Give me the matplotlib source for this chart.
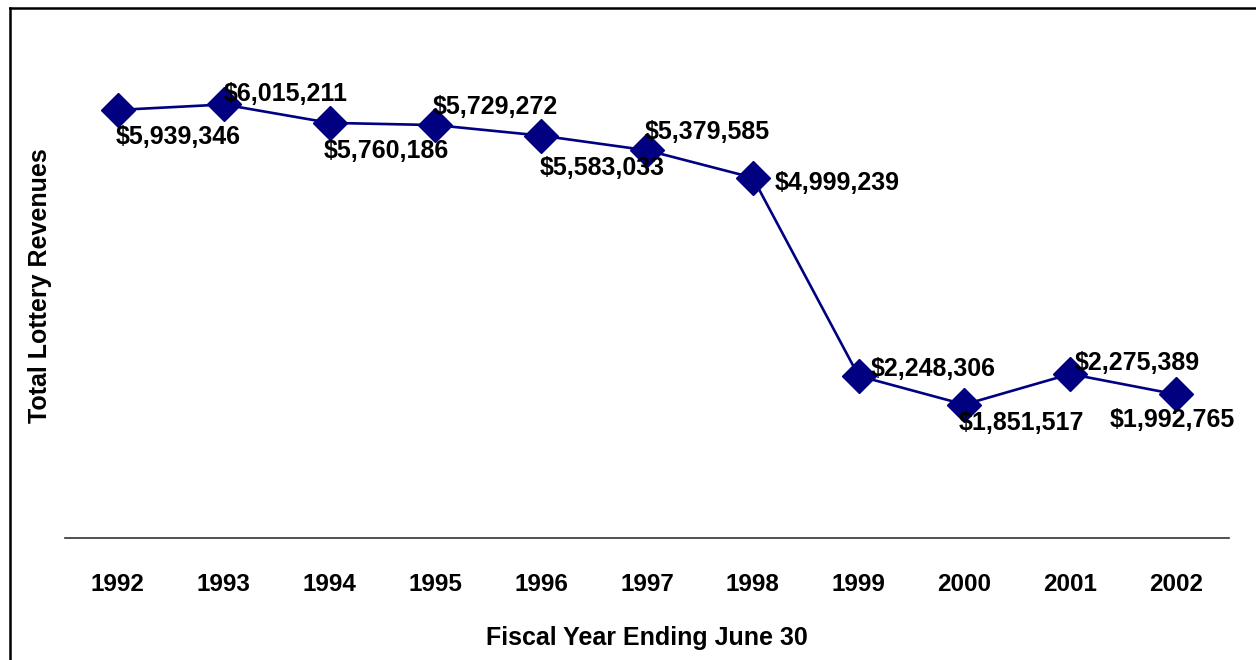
import matplotlib
matplotlib.use("Agg")
import matplotlib.pyplot as plt
from matplotlib.lines import Line2D

plt.rcParams['font.family'] = ['Liberation Sans', 'DejaVu Sans']

years = ["1992", "1993", "1994", "1995", "1996", "1997",
         "1998", "1999", "2000", "2001", "2002"]
revenues = [5939346, 6015211, 5760186, 5729272, 5583033, 5379585,
            4999239, 2248306, 1851517, 2275389, 1992765]

# label offsets (pixels) of each value label's centre from its marker
label_offsets = [(60, -27), (62, 10), (57, -28), (60, 18), (61, -32), (60, 18),
                 (84, -5), (75, 7), (57, -18), (67, 11), (-4, -26)]

W, H = 1256, 660
fig = plt.figure(figsize=(W / 100, H / 100), dpi=100)
ax = fig.add_axes([65 / W, 122 / H, 1164 / W, 504.5 / H])

x = list(range(len(years)))
ax.plot(x, revenues, color="#000080", linewidth=1.9, marker="D",
        markersize=17, markerfacecolor="#000080", markeredgecolor="#000080",
        zorder=3)

for xi, v, (dx, dy) in zip(x, revenues, label_offsets):
    ax.annotate(f"${v:,}", (xi, v), xytext=(dx, dy), textcoords="offset pixels",
                ha="center", va="center", fontsize=18, fontweight="bold",
                color="black", zorder=4)

ax.set_xlim(-0.5, len(years) - 0.5)
ax.set_ylim(0, 7000000)
ax.set_xticks(x)
ax.set_xticklabels(years, fontsize=17.5, fontweight="bold")
ax.tick_params(axis="x", length=0, pad=25)
ax.set_yticks([])

for side in ("top", "right", "left"):
    ax.spines[side].set_visible(False)
ax.spines["bottom"].set_color("#333333")
ax.spines["bottom"].set_linewidth(1.2)

ax.set_xlabel("Fiscal Year Ending June 30", fontsize=18, fontweight="bold",
              labelpad=22)
fig.text(40 / W, 1 - 286 / H, "Total Lottery Revenues", rotation=90,
         fontsize=18, fontweight="bold", ha="center", va="center")

# outer frame (left and top edges)
fig.add_artist(Line2D([10 / W, 10 / W], [0, 1 - 8 / H], color="black",
                      linewidth=1.8, transform=fig.transFigure))
fig.add_artist(Line2D([10 / W, 1], [1 - 8 / H, 1 - 8 / H], color="black",
                      linewidth=1.8, transform=fig.transFigure))

fig.savefig("out.png", dpi=100, facecolor="white")
